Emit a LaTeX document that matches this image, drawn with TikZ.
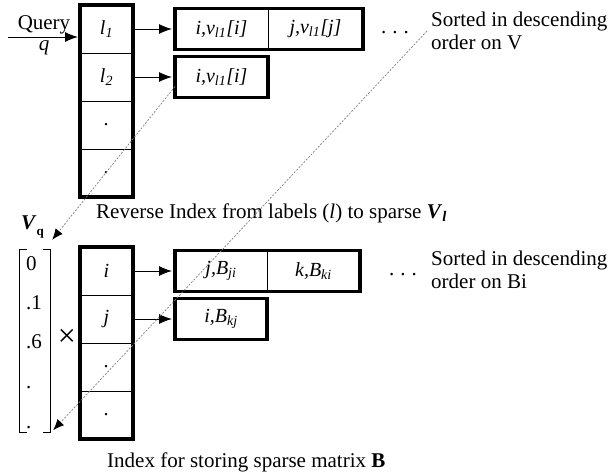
\documentclass[tikz,border=0pt]{standalone}
\usepackage{fontspec}
\setmainfont{Liberation Serif}
\usepackage{tikz}
\usetikzlibrary{arrows.meta,positioning,fit}

\begin{document}
\begin{tikzpicture}[x=1pt,y=-1pt,font=\fontsize{21}{23}\selectfont,node distance=0pt]
\tikzset{cell/.style={draw,line width=0.9pt,minimum width=53pt,minimum height=48pt,inner sep=0pt,outer sep=0pt,font=\fontsize{20}{22}\selectfont\itshape},
  pair/.style={draw,line width=0.9pt,minimum height=41pt,inner sep=0pt,outer sep=0pt,font=\fontsize{20}{22}\selectfont\itshape},
  frame/.style={draw,line width=3.6pt,inner sep=0pt},
  ptr/.style={-{Latex[length=13pt,width=10pt]},line width=1pt,shorten >=3pt},
  link/.style={draw=gray,line width=0.7pt,dash pattern=on 2pt off 1.5pt,-{Latex[length=11pt,width=9pt,black]}},
  note/.style={align=left,anchor=west,inner sep=0pt}}
\useasboundingbox (0,0) rectangle (611,474);

% reverse index on labels
\node[cell] (l1) at (106.5,29) {l\textsubscript{1}};
\node[cell,below=of l1] (l2) {l\textsubscript{2}};
\node[cell,below=of l2] (l3) {.};
\node[cell,below=of l3] (l4) {.};
\node[frame,fit=(l1)(l4)] (cola) {};
\node[pair,minimum width=93pt,right=42pt of l1] (r1a) {i,v\textsubscript{l1}[i]};
\node[pair,minimum width=95pt,right=of r1a] (r1b) {j,v\textsubscript{l1}[j]};
\node[frame,fit=(r1a)(r1b)] {};
\node[pair,minimum width=93pt,right=42pt of l2] (r2a) {i,v\textsubscript{l1}[i]};
\node[frame,fit=(r2a)] {};
\node[anchor=base,inner sep=0pt] (dotsA) at (395,33) {.\hspace{6pt}.\hspace{6pt}.};
\node[note] (noteA) at (431,31) {Sorted in descending\\order on V};
\coordinate (qin) at (8,37);
\draw[ptr,shorten >=2pt] (qin) -- ([yshift=-8pt]l1.west) node[midway,above,inner sep=2pt]{Query} node[midway,below,inner sep=3pt]{\textit{q}};
\draw[ptr] (l1) -- (r1a);
\draw[ptr] (l2) -- (r2a);
\node[anchor=west,inner sep=0pt] (capa) at (96,213) {Reverse Index from labels (\textit{l}) to sparse \textbf{\textit{V}}\textsubscript{\textit{\textbf{l}}}};

% query vector
\node[anchor=base west,inner sep=0pt] (vq) at (21,229) {\textbf{\textit{V}}\raisebox{-6pt}{\fontsize{13}{13}\selectfont\bfseries q}};
\node[minimum width=30pt,minimum height=182pt,inner sep=0pt] (vec) at (35,341) {};
\draw[line width=0.8pt] ([xshift=7pt]vec.north west) -| (vec.south west) -- ++(7,0);
\draw[line width=0.8pt] ([xshift=-7pt]vec.north east) -| (vec.south east) -- ++(-7,0);
\foreach \v/\y [count=\k] in {0/270,.1/309,.6/348,./388,./428}
  \node[anchor=base west,inner sep=0pt] (e\k) at (26,\y) {\v};
\node[font=\fontsize{32}{32}\selectfont] (times) at (67,338) {×};

% index of sparse matrix B
\node[cell] (b1) at (106.5,271) {i};
\node[cell,below=of b1] (b2) {j};
\node[cell,below=of b2] (b3) {.};
\node[cell,below=of b3] (b4) {.};
\node[frame,fit=(b1)(b4)] (colb) {};
\node[pair,minimum width=92pt,right=42pt of b1] (r3a) {j,B\textsubscript{ji}};
\node[pair,minimum width=93pt,right=of r3a] (r3b) {k,B\textsubscript{ki}};
\node[frame,fit=(r3a)(r3b)] {};
\node[pair,minimum width=92pt,right=42pt of b2] (r4a) {i,B\textsubscript{kj}};
\node[frame,fit=(r4a)] {};
\node[anchor=base,inner sep=0pt] (dotsB) at (403,275) {.\hspace{6pt}.\hspace{6pt}.};
\node[note] (noteB) at (431,270) {Sorted in descending\\order on Bi};
\draw[ptr] (b1) -- (r3a);
\draw[ptr] (b2) -- (r4a);
\node[anchor=west,inner sep=0pt] (capb) at (107,462) {Index for storing sparse matrix \textbf{B}};

% dashed links
\draw[link] ([yshift=11pt]r2a.south west) -- ([shift={(2pt,10pt)}]vec.north east);
\draw[link] ([xshift=-4pt]noteA.west) -- ([shift={(3pt,2pt)}]vec.south east);
\end{tikzpicture}
\end{document}
